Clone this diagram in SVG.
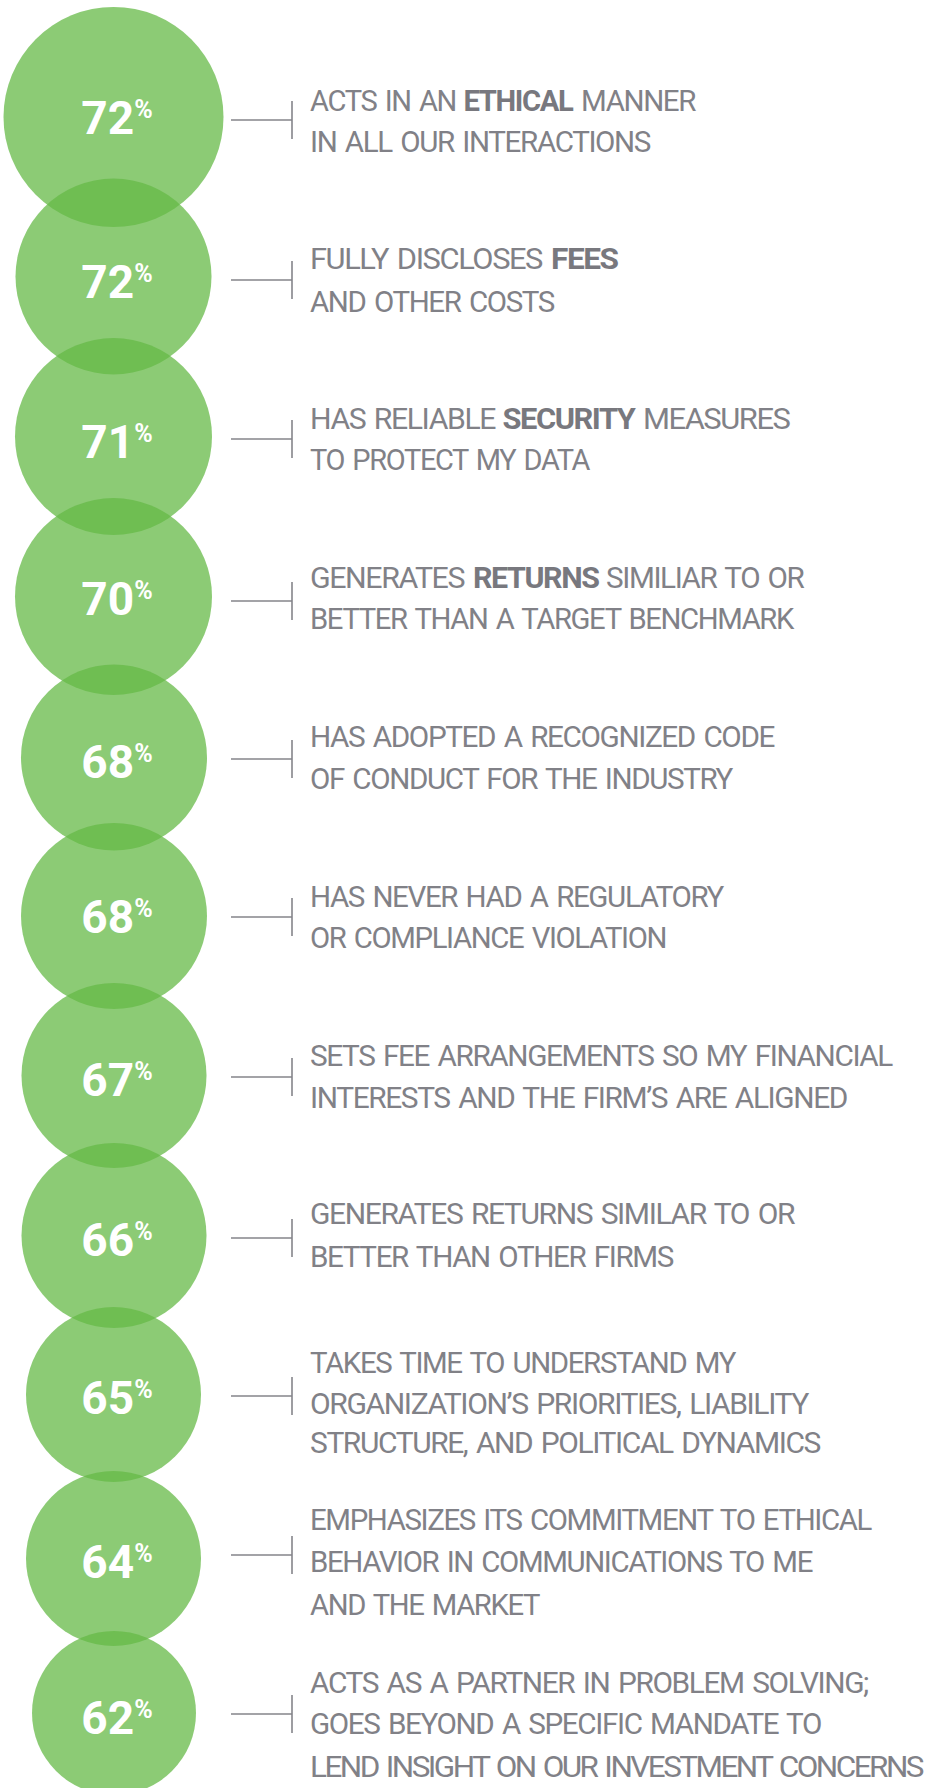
<svg xmlns="http://www.w3.org/2000/svg" width="925" height="1788" viewBox="0 0 925 1788">
<style>
.c{fill:#65BA47;fill-opacity:0.75}
.n{font-family:Roboto,"Liberation Sans",sans-serif;font-weight:700;font-size:46px;fill:#ffffff;text-anchor:middle}
.p{font-size:25px}
.t{font-family:Roboto,"Liberation Sans",sans-serif;font-size:30px;letter-spacing:-1.4px;word-spacing:2.5px;fill:#818187}
.tt{letter-spacing:-2.4px}
.b{font-weight:700;fill:#78787e}
.l{stroke:#85858b;stroke-width:1.6;fill:none}
</style>
<rect width="925" height="1788" fill="#ffffff"/>
<g id="connectors">
<path class="l" d="M231 120H292M292 101V139"/>
<path class="l" d="M231 280H292M292 261V299"/>
<path class="l" d="M231 439H292M292 420V458"/>
<path class="l" d="M231 601H292M292 582V620"/>
<path class="l" d="M231 759H292M292 740V778"/>
<path class="l" d="M231 917H292M292 898V936"/>
<path class="l" d="M231 1077H292M292 1058V1096"/>
<path class="l" d="M231 1238H292M292 1219V1257"/>
<path class="l" d="M231 1396H292M292 1377V1415"/>
<path class="l" d="M231 1555H292M292 1536V1574"/>
<path class="l" d="M231 1714H292M292 1695V1733"/>
</g>
<g id="node1">
<circle class="c" cx="113.5" cy="117" r="110"/>
<text class="n" x="117" y="134">72<tspan class="p" dy="-16">%</tspan></text>
<text class="t" x="310" y="110.7" textLength="146" lengthAdjust="spacingAndGlyphs">ACTS IN AN</text>
<text class="t b" x="463.5" y="110.7" textLength="109" lengthAdjust="spacingAndGlyphs">ETHICAL</text>
<text class="t" x="581" y="110.7" textLength="114" lengthAdjust="spacingAndGlyphs">MANNER</text>
<text class="t" x="310" y="151.7" textLength="340" lengthAdjust="spacingAndGlyphs">IN ALL OUR INTERACTIONS</text>
</g>
<g id="node2">
<circle class="c" cx="113.5" cy="276.5" r="98"/>
<text class="n" x="117" y="297.5">72<tspan class="p" dy="-16">%</tspan></text>
<text class="t" x="310" y="269.3" textLength="232" lengthAdjust="spacingAndGlyphs">FULLY DISCLOSES</text>
<text class="t b" x="551" y="269.3" textLength="66.5" lengthAdjust="spacingAndGlyphs">FEES</text>
<text class="t" x="310" y="311.7" textLength="244" lengthAdjust="spacingAndGlyphs">AND OTHER COSTS</text>
</g>
<g id="node3">
<circle class="c" cx="113.5" cy="436.5" r="98.5"/>
<text class="n" x="117" y="458.3">71<tspan class="p" dy="-16">%</tspan></text>
<text class="t" x="310" y="429" textLength="185" lengthAdjust="spacingAndGlyphs">HAS RELIABLE</text>
<text class="t b" x="502.5" y="429" textLength="132" lengthAdjust="spacingAndGlyphs">SECURITY</text>
<text class="t" x="643" y="429" textLength="146.5" lengthAdjust="spacingAndGlyphs">MEASURES</text>
<text class="t" x="310" y="470" textLength="279" lengthAdjust="spacingAndGlyphs">TO PROTECT MY DATA</text>
</g>
<g id="node4">
<circle class="c" cx="113.5" cy="596.5" r="98.5"/>
<text class="n" x="117" y="615">70<tspan class="p" dy="-16">%</tspan></text>
<text class="t" x="310" y="587.7" textLength="154" lengthAdjust="spacingAndGlyphs">GENERATES</text>
<text class="t b" x="473" y="587.7" textLength="125.5" lengthAdjust="spacingAndGlyphs">RETURNS</text>
<text class="t" x="606" y="587.7" textLength="197.5" lengthAdjust="spacingAndGlyphs">SIMILIAR TO OR</text>
<text class="t" x="310" y="629.3" textLength="483" lengthAdjust="spacingAndGlyphs">BETTER THAN A TARGET BENCHMARK</text>
</g>
<g id="node5">
<circle class="c" cx="114" cy="757.5" r="93"/>
<text class="n" x="117" y="777.7">68<tspan class="p" dy="-16">%</tspan></text>
<text class="t" x="310" y="746.7" textLength="464" lengthAdjust="spacingAndGlyphs">HAS ADOPTED A RECOGNIZED CODE</text>
<text class="t" x="310" y="789.3" textLength="422" lengthAdjust="spacingAndGlyphs">OF CONDUCT FOR THE INDUSTRY</text>
</g>
<g id="node6">
<circle class="c" cx="114" cy="916" r="93"/>
<text class="n" x="117" y="933.3">68<tspan class="p" dy="-16">%</tspan></text>
<text class="t" x="310" y="906.7" textLength="413" lengthAdjust="spacingAndGlyphs">HAS NEVER HAD A REGULATORY</text>
<text class="t" x="310" y="948.3" textLength="356" lengthAdjust="spacingAndGlyphs">OR COMPLIANCE VIOLATION</text>
</g>
<g id="node7">
<circle class="c" cx="114" cy="1075.5" r="92.5"/>
<text class="n" x="117" y="1095.7">67<tspan class="p" dy="-16">%</tspan></text>
<text class="t" x="310" y="1065.7" textLength="582" lengthAdjust="spacingAndGlyphs">SETS FEE ARRANGEMENTS SO MY FINANCIAL</text>
<text class="t" x="310" y="1108.3" textLength="537" lengthAdjust="spacingAndGlyphs">INTERESTS AND THE FIRM’S ARE ALIGNED</text>
</g>
<g id="node8">
<circle class="c" cx="114" cy="1235.5" r="92.5"/>
<text class="n" x="117" y="1256">66<tspan class="p" dy="-16">%</tspan></text>
<text class="t" x="310" y="1224.3" textLength="484" lengthAdjust="spacingAndGlyphs">GENERATES RETURNS SIMILAR TO OR</text>
<text class="t" x="310" y="1266.7" textLength="363" lengthAdjust="spacingAndGlyphs">BETTER THAN OTHER FIRMS</text>
</g>
<g id="node9">
<circle class="c" cx="113.5" cy="1394.5" r="87.5"/>
<text class="n" x="117" y="1413.5">65<tspan class="p" dy="-16">%</tspan></text>
<text class="t" x="310" y="1373.3" textLength="425" lengthAdjust="spacingAndGlyphs">TAKES TIME TO UNDERSTAND MY</text>
<text class="t" x="310" y="1414" textLength="498" lengthAdjust="spacingAndGlyphs">ORGANIZATION’S PRIORITIES, LIABILITY</text>
<text class="t" x="310" y="1453" textLength="510" lengthAdjust="spacingAndGlyphs">STRUCTURE, AND POLITICAL DYNAMICS</text>
</g>
<g id="node10">
<circle class="c" cx="113.5" cy="1558.5" r="87.5"/>
<text class="n" x="117" y="1577.7">64<tspan class="p" dy="-16">%</tspan></text>
<text class="t" x="310" y="1530" textLength="561" lengthAdjust="spacingAndGlyphs">EMPHASIZES ITS COMMITMENT TO ETHICAL</text>
<text class="t" x="310" y="1571.7" textLength="502" lengthAdjust="spacingAndGlyphs">BEHAVIOR IN COMMUNICATIONS TO ME</text>
<text class="t" x="310" y="1615" textLength="229" lengthAdjust="spacingAndGlyphs">AND THE MARKET</text>
</g>
<g id="node11">
<circle class="c" cx="114" cy="1713" r="82"/>
<text class="n" x="117" y="1734.3">62<tspan class="p" dy="-16">%</tspan></text>
<text class="t" x="310" y="1692.7" textLength="558" lengthAdjust="spacingAndGlyphs">ACTS AS A PARTNER IN PROBLEM SOLVING;</text>
<text class="t" x="310" y="1734.3" textLength="511" lengthAdjust="spacingAndGlyphs">GOES BEYOND A SPECIFIC MANDATE TO</text>
<text class="t tt" x="310" y="1776.7" textLength="612" lengthAdjust="spacingAndGlyphs">LEND INSIGHT ON OUR INVESTMENT CONCERNS</text>
</g>
</svg>
